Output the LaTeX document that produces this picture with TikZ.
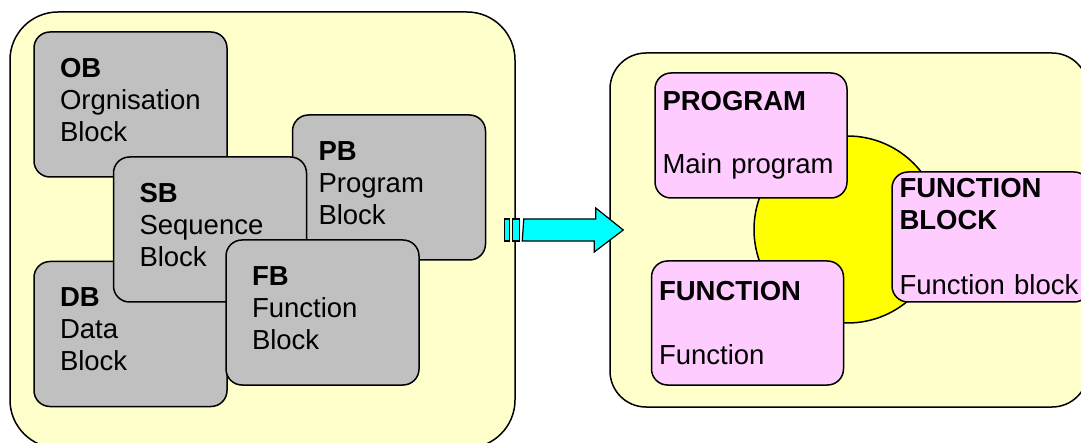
\documentclass[tikz,border=0pt]{standalone}
\usepackage{fontspec}
\setmainfont{Liberation Sans}
\usepackage{color}

\definecolor{panelbg}{HTML}{FFFFCC}
\definecolor{blockgray}{HTML}{C0C0C0}
\definecolor{partpink}{HTML}{FFCCFF}
\definecolor{coreyellow}{HTML}{FFFF00}
\definecolor{arrowcyan}{HTML}{00FFFF}

\begin{document}
\begin{tikzpicture}[x=1pt, y=-1pt]
		\useasboundingbox (0,0) rectangle (1081,443);
		\tikzstyle{panel} = [draw, line width=1.5pt, fill=panelbg, inner sep=0pt]
		\tikzstyle{blk} = [draw, line width=1.5pt, fill=blockgray, rounded corners=16pt, minimum height=145pt, inner xsep=26pt, inner ysep=0pt, text width=141pt, align=left, font=\fontsize{27.5}{32}\selectfont]
		\tikzstyle{part} = [draw, line width=1.5pt, fill=partpink, rounded corners=16pt, inner xsep=7.5pt, inner ysep=0pt, text width=177pt, align=left, font=\fontsize{27.5}{32}\selectfont]
		\tikzstyle{arrowbody} = [draw, line width=1.2pt, fill=arrowcyan]

		\node[panel, rounded corners=48pt, minimum width=505pt, minimum height=436pt] (left) at (262.5,230) {};
		\node[blk] (ob) at (130.5,104.5) {\textbf{OB}\\Orgnisation\\Block\strut};
		\node[blk] (pb) at (389,187.5) {\textbf{PB}\\Program\\Block\strut};
		\node[blk] (db) at (130.5,334) {\textbf{DB}\\Data\\Block\strut};
		\node[blk] (sb) at (210,229.5) {\textbf{SB}\\Sequence\\Block\strut};
		\node[blk] (fb) at (322.5,312.5) {\textbf{FB}\\Function\\Block\strut};

		\node[panel, rounded corners=36pt, minimum width=478pt, minimum height=354pt] (right) at (849,230) {};
		\node[circle, draw, line width=1.5pt, fill=coreyellow, minimum size=187pt, inner sep=0pt] (core) at (847.5,229.5) {};
		\node[part, minimum height=125pt] (prog) at (751,135.5) {\textbf{PROGRAM}\\[31pt]Main program};
		\node[part, minimum height=124pt] (func) at (747.5,323) {\textbf{FUNCTION}\\[32pt]Function};
		\node[part, text width=183pt, minimum height=130pt] (fblock) at (991,237) {\textbf{FUNCTION}\\\textbf{BLOCK}\\[33pt]Function block};

		\coordinate (tail) at ([xshift=8pt]left.east);
		\coordinate (tip) at ([xshift=14pt]right.west);
		\draw[arrowbody] (tail) ++(-19,-11) rectangle ++(5,22);
		\draw[arrowbody] (tail) ++(-11,-11) rectangle ++(7,22);
		\draw[arrowbody] (tail) ++(0,-11) -- ++(72,0) -- ++(0,-11) -- (tip) -- ++(-29,22) -- ++(0,-11) -- ++(-72,0) -- cycle;
\end{tikzpicture}
\end{document}
